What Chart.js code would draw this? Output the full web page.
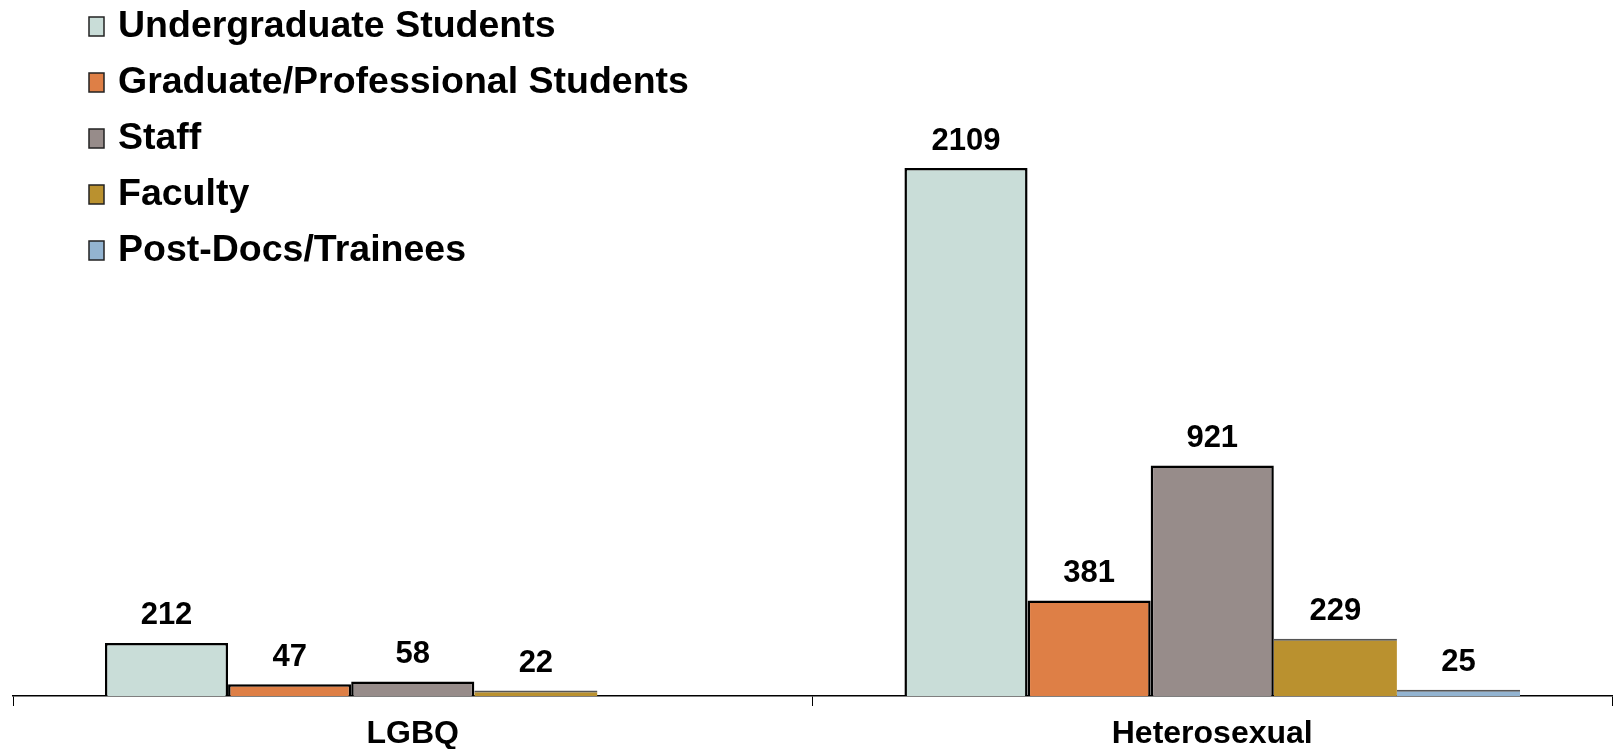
<!DOCTYPE html>
<html>
<head>
<meta charset="utf-8">
<script src="https://cdn.jsdelivr.net/npm/chart.js@4.4.0/dist/chart.umd.min.js"></script>
<style>
  html, body { margin: 0; padding: 0; background: #fff; }
</style>
</head>
<body>
<canvas id="myChart" width="1618" height="749"></canvas>
<script>
const labels = ['LGBQ', 'Heterosexual'];
const seriesNames = ['Undergraduate Students', 'Graduate/Professional Students', 'Staff', 'Faculty', 'Post-Docs/Trainees'];
const undergrad = [212, 2109];
const gradProf = [47, 381];
const staff = [58, 921];
const faculty = [22, 229];
const postDocs = [null, 25];

const fills = ['#C9DDD8', '#DE7F46', '#978C8A', '#BA912F', '#93B4D1'];
const FONT = '"Liberation Sans", Arial, sans-serif';

// value labels above each bar
const valueLabels = {
    id: 'valueLabels',
    afterDatasetsDraw(chart) {
        const c = chart.ctx;
        c.save();
        c.font = 'bold 31px ' + FONT;
        c.fillStyle = '#000';
        c.textAlign = 'center';
        c.textBaseline = 'middle';
        chart.data.datasets.forEach((ds, i) => {
            chart.getDatasetMeta(i).data.forEach((bar, j) => {
                const v = ds.data[j];
                if (v == null) return;
                c.fillText(String(v), bar.x, bar.y - 27);
            });
        });
        c.restore();
    }
};

// legend stacked in the top-left corner, over the plot
const cornerLegend = {
    id: 'cornerLegend',
    afterDraw(chart) {
        const c = chart.ctx;
        c.save();
        c.font = 'bold 37.5px ' + FONT;
        c.textBaseline = 'middle';
        chart.data.datasets.forEach((ds, i) => {
            const y = 26 + i * 56;
            c.fillStyle = ds.backgroundColor;
            c.fillRect(89, y - 9, 15, 19);
            c.strokeStyle = '#222';
            c.lineWidth = 1.5;
            c.strokeRect(89, y - 9, 15, 19);
            c.fillStyle = '#000';
            c.fillText(ds.label, 118, y + 1);
        });
        c.restore();
    }
};

const thick = 2.5;
const thin = { top: 2, left: 0, right: 0, bottom: 0 };

var ctx = document.getElementById('myChart');
var myChart = new Chart(ctx, {
    type: 'bar',
    data: {
        labels: labels,
        datasets: [
            { label: seriesNames[0], data: undergrad, backgroundColor: fills[0], borderColor: '#000', borderWidth: thick },
            { label: seriesNames[1], data: gradProf, backgroundColor: fills[1], borderColor: '#000', borderWidth: thick },
            { label: seriesNames[2], data: staff, backgroundColor: fills[2], borderColor: '#000', borderWidth: thick },
            { label: seriesNames[3], data: faculty, backgroundColor: fills[3], borderColor: '#555', borderWidth: thin },
            { label: seriesNames[4], data: postDocs, backgroundColor: fills[4], borderColor: '#555', borderWidth: thin }
        ]
    },
    options: {
        responsive: false,
        animation: false,
        layout: {
            padding: { left: 13, right: 6, top: 0, bottom: -13 }
        },
        datasets: {
            bar: {
                barPercentage: 1,
                categoryPercentage: 0.77
            }
        },
        plugins: {
            legend: { display: false },
            tooltip: { enabled: false }
        },
        scales: {
            x: {
                grid: {
                    offset: true,
                    drawOnChartArea: false,
                    drawTicks: true,
                    tickLength: 10,
                    color: '#000'
                },
                border: { color: '#000', width: 1.5 },
                ticks: {
                    color: '#000',
                    padding: 12,
                    font: { family: FONT, size: 32, weight: 'bold', lineHeight: 1 }
                }
            },
            y: {
                display: false,
                beginAtZero: true,
                min: 0,
                max: 2780
            }
        }
    },
    plugins: [valueLabels, cornerLegend]
});
</script>
</body>
</html>
